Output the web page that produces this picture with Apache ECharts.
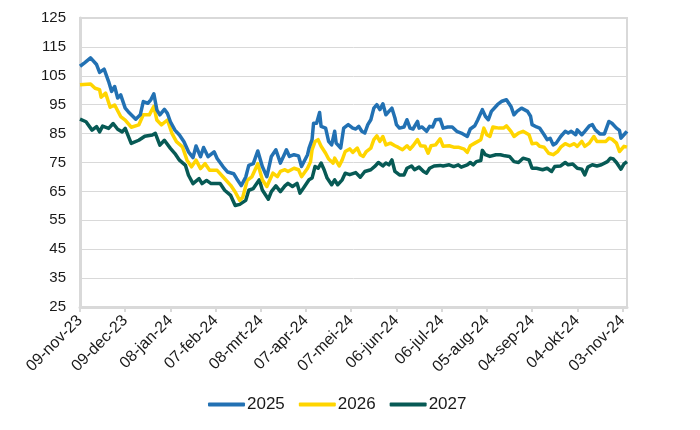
<!DOCTYPE html>
<html>
<head>
<meta charset="utf-8">
<script src="https://cdn.jsdelivr.net/npm/echarts@6/dist/echarts.min.js"></script>
<style>html,body{margin:0;padding:0;background:#fff}#c{width:700px;height:430px}</style>
</head>
<body>
<div id="c"></div>
<script>
// Tick labels (every 30 days starting 09-nov-23)
const tickLabels = ['09-nov-23','09-dec-23','08-jan-24','07-feb-24','08-mrt-24','07-apr-24','07-mei-24','06-jun-24','06-jul-24','05-aug-24','04-sep-24','04-okt-24','03-nov-24'];
const seriesNames = ['2025','2026','2027'];

// Day offsets from 09-nov-23 and values
const days2025 = [0,3,7,11,13,16,19,21,23,25,27,30,32,37,40,42,45,47,49,51,53,56,58,60,63,66,69,72,75,77,80,82,85,89,91,95,98,102,104,107,110,112,115,118,121,124,127,130,133,136,137,139,142,145,147,151,152,154,155,157,159,160,163,165,167,169,170,173,175,178,181,183,185,187,189,191,193,195,197,199,201,203,205,207,209,210,212,215,217,219,221,224,225,227,230,232,234,236,239,241,244,247,250,253,257,259,262,264,267,269,271,273,277,280,283,286,288,290,293,297,299,300,303,305,308,310,312,314,316,319,322,324,326,329,330,333,335,338,340,342,345,348,351,353,356,358,359,362,363];
const v2025 = [108.3,109.5,111.2,108.9,106.2,107.3,103,99.6,101.3,97.3,98.4,93.8,92.6,90,91.5,96.1,95.5,96.7,98.8,93.2,91.5,93.4,92,89.1,86.2,84.5,82.2,78.7,76.7,80.7,77,80.2,77,78.7,76.4,73.5,71.7,71.1,69.4,67,70,74,74.6,79,73.6,70.1,77.1,79.4,74.8,78.2,79.4,77.1,77.7,77.3,73.6,77.7,80,82.9,88.6,88.6,92.3,87.5,86.9,82.3,81.1,85.8,81.7,80,86.9,88.1,86.9,86.6,87.5,85.8,85.2,88.1,89.8,93.8,95,93.3,95.3,91.5,92.7,93.8,90.4,88.1,86.9,87.3,89.8,86.9,86.6,89.2,86.9,87.3,85.8,87.5,87.3,89.8,90,86.9,87.3,87.3,85.8,85.2,84,86.6,87.7,89.8,93.3,91,89.8,92.7,95,96.2,96.7,94.4,91.5,92.7,93.8,92.7,91,88.1,87.3,86.9,84.6,82.9,83.4,81.1,81.7,84,85.8,85.2,85.8,84.6,86.3,84.6,85.8,87.7,88.1,86.3,84.9,84.9,89.2,88.6,86.9,86.1,83.4,85.2,85.8];

const days2026 = [0,7,10,13,14,17,20,23,27,30,34,39,42,46,49,51,54,58,61,64,68,71,74,77,80,83,86,91,95,100,103,106,108,111,114,118,121,124,126,128,131,133,136,138,142,145,147,151,153,154,156,158,160,163,165,168,169,172,174,176,179,181,184,186,188,190,193,195,197,199,201,203,206,209,211,214,217,219,221,224,226,229,231,233,236,239,241,245,248,251,255,257,259,262,266,268,270,272,274,278,281,283,286,288,291,294,298,300,303,305,308,311,314,317,319,322,325,328,330,333,335,338,341,343,346,349,351,353,356,358,361,363];
const v2026 = [101.9,102.2,100.7,100.2,97.6,99,94.1,94.9,90.9,89.7,87.2,88,91.5,91.5,94.4,89.7,88,89.7,85.1,82.2,80.4,75.8,73.5,75.8,72.9,74.6,72.3,72.3,70,67.1,64.8,61.9,63,68.8,70,74.6,69,66.7,69,71.3,70.1,71.9,72.5,71.9,73,72.5,70.1,73,75.3,79.4,82.3,82.9,80.6,78.2,76.2,74.8,76.5,73.8,75.9,78.8,79.7,78.5,80,77.7,77.1,78.8,80,82.9,84.2,82.3,84,81.1,81.7,80.8,80.3,79.4,80.8,79.6,80.8,82.9,80.8,80.6,78.2,80.8,81.1,83.2,80.6,80.8,80.3,80.3,79.6,78.5,80.8,81.7,82.9,86.9,84.6,84,87.3,86.9,86.9,87.7,85.8,84,85.2,85.8,84.6,81.5,81.7,80.6,80.3,78.2,77.7,78.8,80.3,81.5,80.8,81.5,80.6,82.3,80.6,81.7,84,82.3,82.3,82.3,83.4,83.1,81.7,78.8,80.6,80.3];

const days2027 = [0,4,8,11,13,15,19,22,25,28,30,34,39,43,48,50,53,56,60,63,66,70,72,75,79,81,84,87,93,96,100,103,106,110,112,115,119,121,125,127,130,133,136,138,141,144,146,149,152,154,156,158,160,162,164,167,169,171,174,176,179,183,186,189,193,196,198,201,203,205,207,209,212,215,217,220,222,225,228,230,232,235,239,241,245,248,251,253,257,259,261,263,266,267,269,272,276,279,282,285,288,291,294,298,300,303,307,310,313,315,319,322,324,327,330,333,335,337,340,343,346,350,352,354,356,359,361,363];
const v2027 = [90,89.1,86.2,87.4,85.6,87.6,86.8,88.5,86.5,85.6,86.8,81.6,82.7,84.1,84.5,85.1,81,82.7,79.9,78.1,75.8,74,70.6,67.7,69.4,67.7,68.8,67.7,67.7,65.4,63.6,60.1,60.5,61.9,65.4,66,69,65.5,62.3,64.9,66.9,64.9,66.9,67.8,66.7,67.8,64.4,66.7,69,69.6,73.6,73,74.8,72.5,69.6,67.3,69,67.3,69,71.3,70.8,71.5,69.9,71.9,72.5,73.8,75,73.8,74.8,74.2,75.9,71.9,70.7,70.7,73,73.8,72.5,73.4,71.9,71.3,73,73.8,74,73.8,74.2,73.6,74.2,73.4,74.2,75,74.2,75.3,75.7,79.2,77.7,77.1,77.7,77.7,77.3,77.1,75.3,75,76.5,75.9,73,73,72.5,73,71.9,73.6,73.8,75,74.2,74.5,73,72.7,70.7,73.4,74.2,73.8,74.2,75.3,76.5,76.2,75,72.7,74.5,75.3];

const colors = ['#2271b3', '#ffd500', '#075a55'];
const zip = (d, v) => d.map((x, i) => [x, v[i]]);

const chart = echarts.init(document.getElementById('c'), null, {renderer: 'canvas'});
const font = '"Liberation Sans", Arial, sans-serif';
chart.setOption({
  animation: false,
  color: colors,
  grid: {left: 80, right: 73, top: 18, bottom: 123, show: true, borderColor: '#d9d9d9', borderWidth: 2},
  xAxis: {
    type: 'value', min: 0, max: 363, interval: 30,
    axisLine: {show: true, onZero: false, lineStyle: {color: '#d9d9d9', width: 3}},
    axisTick: {show: true, length: 5, lineStyle: {color: '#d9d9d9', width: 2}},
    splitLine: {show: false},
    axisLabel: {
      rotate: 45, margin: 11, fontSize: 16, color: '#1a1a1a', fontFamily: font,
      showMaxLabel: false,
      formatter: v => (v % 30 === 0 ? (tickLabels[v / 30] || '') : '')
    }
  },
  yAxis: {
    type: 'value', min: 25, max: 125, interval: 10,
    axisLine: {show: true, lineStyle: {color: '#d9d9d9', width: 3}},
    axisTick: {show: false},
    splitLine: {lineStyle: {color: '#d9d9d9', width: 1}},
    axisLabel: {fontSize: 15, color: '#1a1a1a', fontFamily: font, margin: 14}
  },
  legend: {
    left: 203, top: 391, icon: 'roundRect', itemWidth: 37, itemHeight: 4, itemGap: 14,
    textStyle: {fontSize: 17, color: '#1a1a1a', fontFamily: font, padding: [0, 0, 0, -3]},
    data: seriesNames
  },
  series: [
    {name: seriesNames[0], type: 'line', data: zip(days2025, v2025), showSymbol: false, symbol: 'none', lineStyle: {width: 3.5, color: colors[0], join: 'round'}, z: 3},
    {name: seriesNames[1], type: 'line', data: zip(days2026, v2026), showSymbol: false, symbol: 'none', lineStyle: {width: 3.5, color: colors[1], join: 'round'}, z: 2},
    {name: seriesNames[2], type: 'line', data: zip(days2027, v2027), showSymbol: false, symbol: 'none', lineStyle: {width: 3.5, color: colors[2], join: 'round'}, z: 1}
  ]
});
</script>
</body>
</html>
